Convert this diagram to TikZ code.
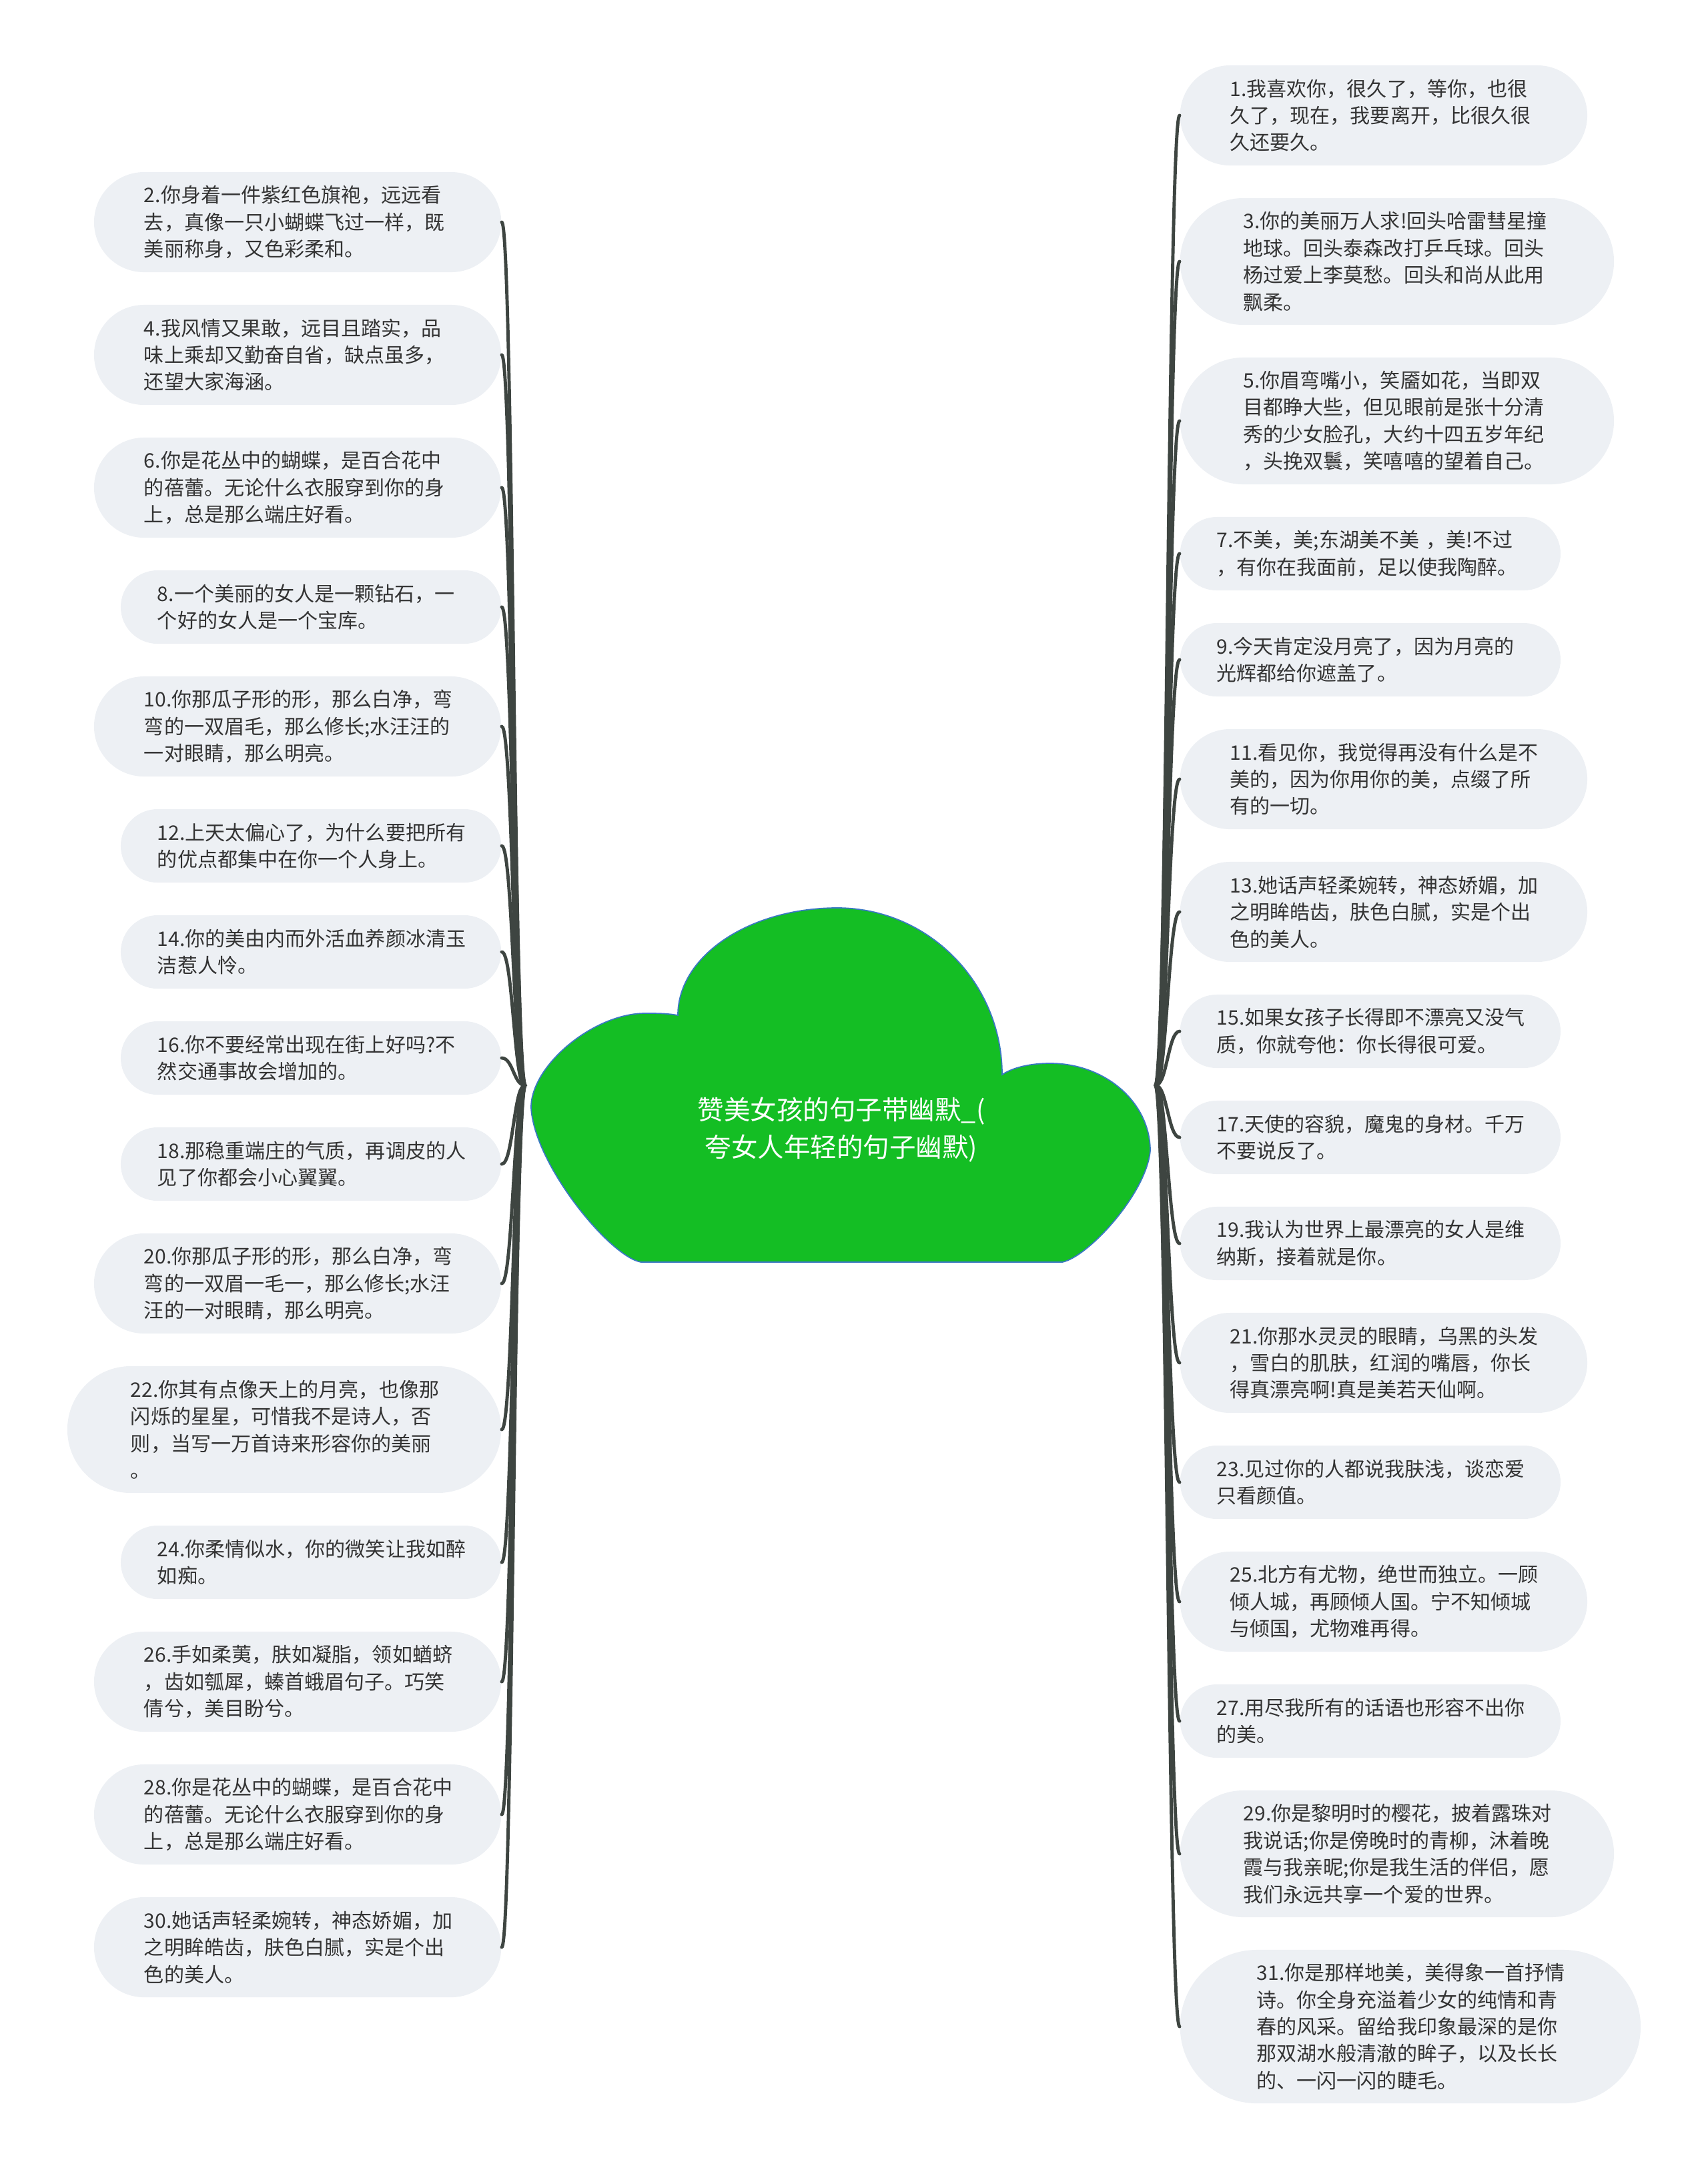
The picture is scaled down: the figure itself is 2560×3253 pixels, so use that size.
\documentclass[tikz,border=0pt]{standalone}
\usepackage{fontspec}
\setmainfont{Noto Sans CJK SC}
\usetikzlibrary{calc}
\definecolor{ShutuLeaf}{HTML}{EDF0F4}
\definecolor{ShutuInk}{HTML}{333333}
\definecolor{ShutuBranch}{HTML}{3E4541}
\definecolor{ShutuGreen}{HTML}{14BE24}
\definecolor{ShutuEdge}{HTML}{3A78C3}

\begin{document}
\begin{tikzpicture}[x=0.01cm,y=-0.01cm,
    leaf/.style={rectangle,fill=ShutuLeaf,text=ShutuInk,
      text width=4.6cm,align=left,inner ysep=0pt,
      rounded corners={(2*#1+1.5)*1mm},inner xsep={(2*#1+1.5)*1mm},
      minimum height={(4*#1+3)*1mm},
      font=\fontsize{8.54}{11.5}\selectfont},
    branch/.style={ShutuBranch,line width=1.4pt,line cap=round}]
  \useasboundingbox (0,0) rectangle (2560,3253);

  \filldraw[fill=ShutuGreen,draw=ShutuEdge,line width=0.5pt]
    (961,1892) -- (1592,1892)
    .. controls (1630,1885) and (1718,1790) .. (1724,1725)
    .. controls (1724,1653) and (1657,1594) .. (1574,1594)
    .. controls (1540,1594) and (1515,1602) .. (1502,1611)
    .. controls (1502,1473) and (1391,1361) .. (1255,1361)
    .. controls (1123,1361) and (1016,1433) .. (1016,1522)
    .. controls (1000,1519) and (985,1519) .. (967,1519)
    .. controls (890,1519) and (796,1597) .. (796,1660)
    .. controls (800,1745) and (915,1885) .. (961,1892) -- cycle;

  \node[text=white,align=center,font=\fontsize{11.24}{15.94}\selectfont]
    (root) at (1261,1694) {赞美女孩的句子带幽默\_(\\夸女人年轻的句子幽默)};
  \coordinate (rootL) at (787,1627);
  \coordinate (rootR) at (1732,1627);

  \foreach \n/\y/\k/\txt in {
    2/333/3/{2.你身着一件紫红色旗袍，远远看\\去，真像一只小蝴蝶飞过一样，既\\美丽称身，又色彩柔和。},
    4/532/3/{4.我风情又果敢，远目且踏实，品\\味上乘却又勤奋自省，缺点虽多，\\还望大家海涵。},
    6/731/3/{6.你是花丛中的蝴蝶，是百合花中\\的蓓蕾。无论什么衣服穿到你的身\\上，总是那么端庄好看。},
    8/910/2/{8.一个美丽的女人是一颗钻石，一\\个好的女人是一个宝库。},
    10/1089/3/{10.你那瓜子形的形，那么白净，弯\\弯的一双眉毛，那么修长;水汪汪的\\一对眼睛，那么明亮。},
    12/1268/2/{12.上天太偏心了，为什么要把所有\\的优点都集中在你一个人身上。},
    14/1427/2/{14.你的美由内而外活血养颜冰清玉\\洁惹人怜。},
    16/1586/2/{16.你不要经常出现在街上好吗?不\\然交通事故会增加的。},
    18/1745/2/{18.那稳重端庄的气质，再调皮的人\\见了你都会小心翼翼。},
    20/1924/3/{20.你那瓜子形的形，那么白净，弯\\弯的一双眉一毛一，那么修长;水汪\\汪的一对眼睛，那么明亮。},
    22/2143/4/{22.你其有点像天上的月亮，也像那\\闪烁的星星，可惜我不是诗人，否\\则，当写一万首诗来形容你的美丽\\。},
    24/2342/2/{24.你柔情似水，你的微笑让我如醉\\如痴。},
    26/2521/3/{26.手如柔荑，肤如凝脂，领如蝤蛴\\，齿如瓠犀，螓首蛾眉句子。巧笑\\倩兮，美目盼兮。},
    28/2720/3/{28.你是花丛中的蝴蝶，是百合花中\\的蓓蕾。无论什么衣服穿到你的身\\上，总是那么端庄好看。},
    30/2919/3/{30.她话声轻柔婉转，神态娇媚，加\\之明眸皓齿，肤色白腻，实是个出\\色的美人。}
  }{
    \node[leaf=\k,anchor=east] (l\n) at (752,\y) {\txt};
    \fill[ShutuBranch] ($(rootL)+(3,0)$) .. controls +(-17,0) and +(17,0) .. (l\n.east)
      .. controls +(17,0) and +(-17,0) .. ($(rootL)+(-3,0)$) -- cycle;
    \draw[branch] (rootL) .. controls +(-17,0) and +(17,0) .. (l\n.east);
  }

  \foreach \n/\y/\k/\txt in {
    1/173/3/{1.我喜欢你，很久了，等你，也很\\久了，现在，我要离开，比很久很\\久还要久。},
    3/392/4/{3.你的美丽万人求!回头哈雷彗星撞\\地球。回头泰森改打乒乓球。回头\\杨过爱上李莫愁。回头和尚从此用\\飘柔。},
    5/631/4/{5.你眉弯嘴小，笑靥如花，当即双\\目都睁大些，但见眼前是张十分清\\秀的少女脸孔，大约十四五岁年纪\\，头挽双鬟，笑嘻嘻的望着自己。},
    7/830/2/{7.不美，美;东湖美不美 ，美!不过\\，有你在我面前，足以使我陶醉。},
    9/989/2/{9.今天肯定没月亮了，因为月亮的\\光辉都给你遮盖了。},
    11/1168/3/{11.看见你，我觉得再没有什么是不\\美的，因为你用你的美，点缀了所\\有的一切。},
    13/1367/3/{13.她话声轻柔婉转，神态娇媚，加\\之明眸皓齿，肤色白腻，实是个出\\色的美人。},
    15/1546/2/{15.如果女孩子长得即不漂亮又没气\\质，你就夸他：你长得很可爱。},
    17/1705/2/{17.天使的容貌，魔鬼的身材。千万\\不要说反了。},
    19/1864/2/{19.我认为世界上最漂亮的女人是维\\纳斯，接着就是你。},
    21/2043/3/{21.你那水灵灵的眼睛，乌黑的头发\\，雪白的肌肤，红润的嘴唇，你长\\得真漂亮啊!真是美若天仙啊。},
    23/2222/2/{23.见过你的人都说我肤浅，谈恋爱\\只看颜值。},
    25/2401/3/{25.北方有尤物，绝世而独立。一顾\\倾人城，再顾倾人国。宁不知倾城\\与倾国，尤物难再得。},
    27/2580/2/{27.用尽我所有的话语也形容不出你\\的美。},
    29/2779/4/{29.你是黎明时的樱花，披着露珠对\\我说话;你是傍晚时的青柳，沐着晚\\霞与我亲昵;你是我生活的伴侣，愿\\我们永远共享一个爱的世界。},
    31/3038/5/{31.你是那样地美，美得象一首抒情\\诗。你全身充溢着少女的纯情和青\\春的风采。留给我印象最深的是你\\那双湖水般清澈的眸子，以及长长\\的、一闪一闪的睫毛。}
  }{
    \node[leaf=\k,anchor=west] (r\n) at (1768,\y) {\txt};
    \fill[ShutuBranch] ($(rootR)+(-3,0)$) .. controls +(17,0) and +(-17,0) .. (r\n.west)
      .. controls +(-17,0) and +(17,0) .. ($(rootR)+(3,0)$) -- cycle;
    \draw[branch] (rootR) .. controls +(17,0) and +(-17,0) .. (r\n.west);
  }
\end{tikzpicture}
\end{document}
